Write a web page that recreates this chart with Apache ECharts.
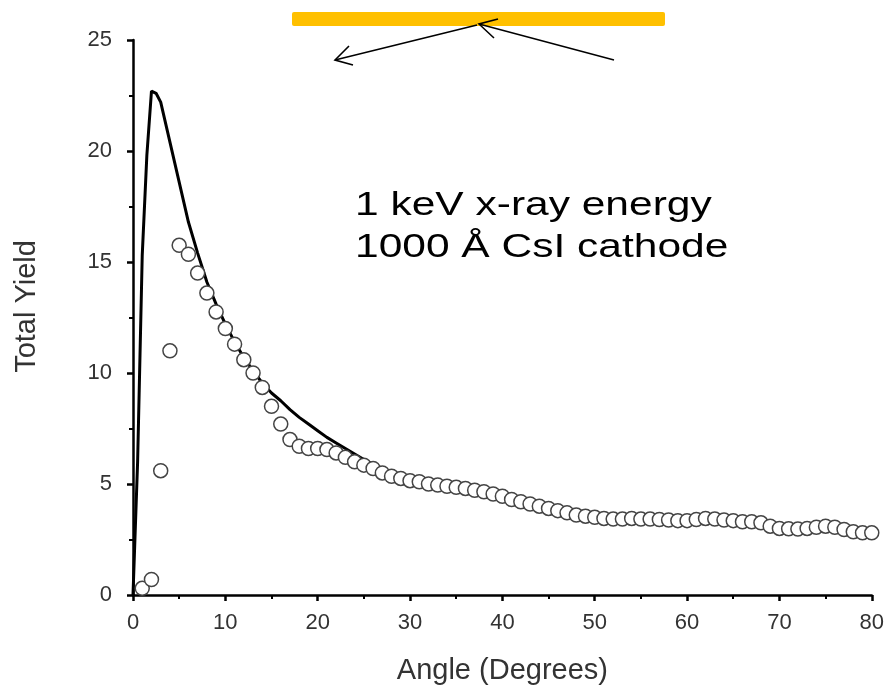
<!DOCTYPE html>
<html>
<head>
<meta charset="utf-8">
<script src="https://cdn.jsdelivr.net/npm/echarts@6/dist/echarts.min.js"></script>
<style>
  html, body { margin: 0; padding: 0; background: #fff; }
  #chart { width: 887px; height: 690px; }
</style>
</head>
<body>
<div id="chart"></div>
<script>
// Measured total yield (open circles), one point per degree
const measuredAngles = [
  1, 2, 3, 4, 5, 6, 7, 8, 9, 10, 11, 12, 13, 14, 15, 16, 17, 18, 19, 20,
  21, 22, 23, 24, 25, 26, 27, 28, 29, 30, 31, 32, 33, 34, 35, 36, 37, 38, 39, 40,
  41, 42, 43, 44, 45, 46, 47, 48, 49, 50, 51, 52, 53, 54, 55, 56, 57, 58, 59, 60,
  61, 62, 63, 64, 65, 66, 67, 68, 69, 70, 71, 72, 73, 74, 75, 76, 77, 78, 79, 80
];
const measuredYield = [
  0.3, 0.7, 5.6, 11.0, 15.75, 15.35, 14.5, 13.6, 12.75, 12.0,
  11.3, 10.6, 10.0, 9.35, 8.5, 7.7, 7.0, 6.7, 6.6, 6.6,
  6.55, 6.4, 6.2, 6.0, 5.85, 5.7, 5.5, 5.35, 5.25, 5.15,
  5.1, 5.0, 4.95, 4.9, 4.85, 4.8, 4.72, 4.65, 4.55, 4.45,
  4.3, 4.2, 4.1, 4.0, 3.9, 3.8, 3.7, 3.6, 3.55, 3.5,
  3.45, 3.42, 3.42, 3.45, 3.42, 3.42, 3.4, 3.38, 3.35, 3.35,
  3.4, 3.45, 3.42, 3.38, 3.35, 3.3, 3.3, 3.25, 3.1, 3.0,
  2.98, 2.97, 3.0, 3.05, 3.1, 3.05, 2.95, 2.85, 2.8, 2.8
];

// Calculated total yield (solid curve)
const modelAngles = [
  0, 0.5, 1, 1.5, 2, 2.5, 3, 4, 5, 6, 7, 8, 9, 10, 11, 12, 13, 14, 15, 16,
  17, 18, 19, 20, 21, 22, 23, 24, 25, 26, 27, 28, 29, 30, 35, 40, 45, 50,
  55, 60, 65, 70, 75, 80
];
const modelYield = [
  0, 6.0, 15.3, 19.8, 22.7, 22.6, 22.2, 20.4, 18.6, 16.8, 15.4, 14.1, 13.1, 12.2, 11.4, 10.7, 10.1, 9.55, 9.1, 8.75,
  8.35, 8.0, 7.7, 7.4, 7.1, 6.85, 6.6, 6.35, 6.1, 5.9, 5.65, 5.45, 5.3, 5.2, 4.9, 4.5, 3.95, 3.55,
  3.45, 3.4, 3.35, 3.05, 3.1, 2.85
];

// Axis tick values
const xTicks = [0, 10, 20, 30, 40, 50, 60, 70, 80];
const yTicks = [0, 5, 10, 15, 20, 25];

const FONT = '"Liberation Sans", Arial, sans-serif';
const LABEL_COLOR = '#333';

const chart = echarts.init(document.getElementById('chart'), null, { renderer: 'canvas' });

const axisCommon = {
  type: 'value',
  axisLine: { show: true, onZero: false, lineStyle: { color: '#000', width: 2.5 } },
  axisTick: { show: true, inside: false, length: 6, lineStyle: { color: '#000', width: 2.5 } },
  minorTick: { show: true, splitNumber: 2, length: 4, lineStyle: { color: '#000', width: 2 } },
  splitLine: { show: false }
};

chart.setOption({
  animation: false,
  backgroundColor: '#fff',
  grid: { left: 133, right: 15, top: 40, bottom: 94, containLabel: false },
  xAxis: Object.assign({}, axisCommon, {
    min: xTicks[0], max: xTicks[xTicks.length - 1], interval: xTicks[1] - xTicks[0],
    axisLabel: { color: LABEL_COLOR, fontFamily: FONT, fontSize: 22, margin: 17 },
    name: 'Angle (Degrees)', nameLocation: 'middle', nameGap: 61,
    nameTextStyle: { color: LABEL_COLOR, fontFamily: FONT, fontSize: 29 }
  }),
  yAxis: Object.assign({}, axisCommon, {
    min: yTicks[0], max: yTicks[yTicks.length - 1], interval: yTicks[1] - yTicks[0],
    axisLabel: { color: LABEL_COLOR, fontFamily: FONT, fontSize: 22, margin: 21 },
    name: 'Total Yield', nameLocation: 'middle', nameGap: 92, nameRotate: 90,
    nameTextStyle: { color: LABEL_COLOR, fontFamily: FONT, fontSize: 29, padding: [0, 0, 0, 22] }
  }),
  series: [
    {
      type: 'line',
      data: modelAngles.map((a, i) => [a, modelYield[i]]),
      showSymbol: false,
      lineStyle: { color: '#000', width: 3 },
      z: 2
    },
    {
      type: 'scatter',
      data: measuredAngles.map((a, i) => [a, measuredYield[i]]),
      symbol: 'circle',
      symbolSize: 14,
      itemStyle: { color: '#fff', borderColor: '#444', borderWidth: 1.5, opacity: 1 },
      z: 3
    }
  ],
  graphic: [
    // cathode surface
    { type: 'rect', shape: { x: 292, y: 12, width: 373, height: 14, r: 2 }, style: { fill: '#FFC000' }, z: 10 },
    // incoming ray
    { type: 'polyline', shape: { points: [[614, 60], [479, 24]] }, style: { stroke: '#000', lineWidth: 1.6, fill: null }, z: 11 },
    { type: 'polyline', shape: { points: [[498, 19], [479, 24], [494, 38]] }, style: { stroke: '#000', lineWidth: 1.6, fill: null }, z: 11 },
    // reflected ray
    { type: 'polyline', shape: { points: [[477, 25], [335, 60]] }, style: { stroke: '#000', lineWidth: 1.6, fill: null }, z: 11 },
    { type: 'polyline', shape: { points: [[349, 46], [335, 60], [353, 65]] }, style: { stroke: '#000', lineWidth: 1.6, fill: null }, z: 11 },
    // conditions
    { type: 'text', x: 355, y: 189, scaleX: 1.25,
      style: { x: 0, y: 0, text: '1 keV x-ray energy', fill: '#000', font: '34px ' + FONT, textVerticalAlign: 'top' }, z: 12 },
    { type: 'text', x: 355, y: 231, scaleX: 1.25,
      style: { x: 0, y: 0, text: '1000 Å CsI cathode', fill: '#000', font: '34px ' + FONT, textVerticalAlign: 'top' }, z: 12 }
  ]
});
</script>
</body>
</html>
